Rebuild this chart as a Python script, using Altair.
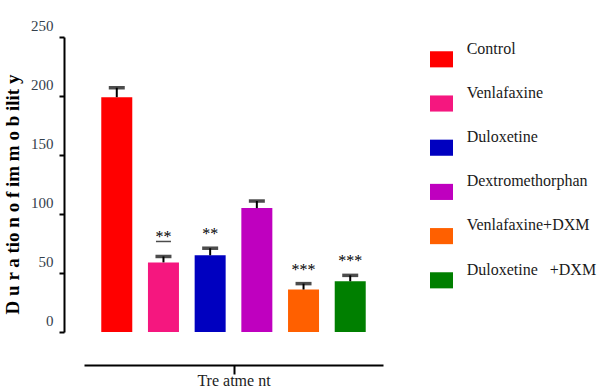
import altair as alt
import pandas as pd

# Immobility duration per treatment group (mean and SEM), with significance marks
groups = ["Control", "Venlafaxine", "Duloxetine", "Dextromethorphan",
          "Venlafaxine+DXM", "Duloxetine\u00a0\u00a0\u00a0+DXM"]
means = [199, 59, 65, 105, 36, 43]
sems = [8, 5, 6, 6, 5, 5]
stars = ["", "**", "**", "", "***", "***"]
underlined = ["Venlafaxine"]
colors = ["#FF0000", "#F5177F", "#0000C0", "#BF00BF", "#FF6000", "#007F00"]
y_ticks = [0, 50, 100, 150, 200, 250]

df = pd.DataFrame({"group": groups, "mean": means, "sem": sems, "stars": stars})
df["upper"] = df["mean"] + df["sem"]
df["underline"] = df["group"].isin(underlined)

serif = "Liberation Serif"

xband = alt.X("group:N", sort=groups,
              scale=alt.Scale(domain=groups, paddingInner=0.336, paddingOuter=0.37),
              axis=None)
yscale = alt.Scale(domain=[0, 250])

base = alt.Chart(df)

bars = base.mark_bar().encode(
    x=xband,
    y=alt.Y("mean:Q", scale=yscale, axis=alt.Axis(
        values=y_ticks, grid=False, offset=20,
        domainColor="black", domainWidth=2,
        tickColor="black", tickWidth=2, tickSize=5,
        labelFont=serif, labelFontSize=15, labelColor="#34404c",
        labelPadding=6, labelOffset=-12,
        title="D u r a tio n o f im m o b ilit y",
        titleFont=serif, titleFontSize=19, titleFontWeight="bold",
        titleColor="black", titleX=-42, titleY=157)),
    color=alt.Color("group:N", scale=alt.Scale(domain=groups, range=colors),
                    legend=alt.Legend(
                        title=None, orient="none", legendX=346, legendY=0,
                        symbolType="M-1,0.24H1V1.64H-1Z", symbolSize=529,
                        symbolStrokeWidth=0, symbolOpacity=1,
                        labelFont=serif, labelFontSize=16, labelColor="#1a1a1a",
                        labelOffset=13.7, rowPadding=13.2, padding=0,
                        labelBaseline="middle", labelLimit=250)),
)

stems = base.mark_rule(strokeWidth=2, color="black").encode(
    x=xband, y=alt.Y("mean:Q", scale=yscale), y2="upper:Q")

caps = base.mark_tick(color="black", thickness=3.5, size=16).encode(
    x=xband, y=alt.Y("upper:Q", scale=yscale))

# Significance stars: plain ones sit just above the cap, underlined ones higher
plain_marks = base.transform_filter("!datum.underline").mark_text(
    font=serif, fontSize=16, baseline="alphabetic", dy=-9, color="black").encode(
    x=xband, y=alt.Y("upper:Q", scale=yscale), text="stars:N")

lined_marks = base.transform_filter("datum.underline").mark_text(
    font=serif, fontSize=16, baseline="alphabetic", dy=-14, color="black").encode(
    x=xband, y=alt.Y("upper:Q", scale=yscale), text="stars:N")

underline = base.transform_filter("datum.underline").mark_tick(
    color="black", thickness=1.5, size=15, yOffset=-15).encode(
    x=xband, y=alt.Y("upper:Q", scale=yscale))

plot = alt.layer(bars, stems, caps, plain_marks, lined_marks, underline)

# Separate horizontal axis: a single line with one centred tick and the title
treatment_axis = alt.Chart(pd.DataFrame({"t": [0.5]})).mark_point(opacity=0).encode(
    x=alt.X("t:Q", scale=alt.Scale(domain=[0, 1]), axis=alt.Axis(
        values=[0.5], labels=False, grid=False, offset=33,
        tickSize=9, tickWidth=2, tickColor="black",
        domainColor="black", domainWidth=2,
        title="Tre atme nt", titleFont=serif, titleFontSize=16,
        titleFontWeight="normal", titleColor="#222", titlePadding=-3)),
)

chart = alt.layer(plot, treatment_axis).resolve_scale(x="independent").properties(
    width=299, height=295,
    autosize=alt.AutoSizeParams(type="none"),
    padding={"left": 84, "top": 37, "right": 224, "bottom": 57},
    background="white",
).configure_view(stroke=None)

chart.save("out.html", embed_options={"renderer": "svg", "actions": False})
